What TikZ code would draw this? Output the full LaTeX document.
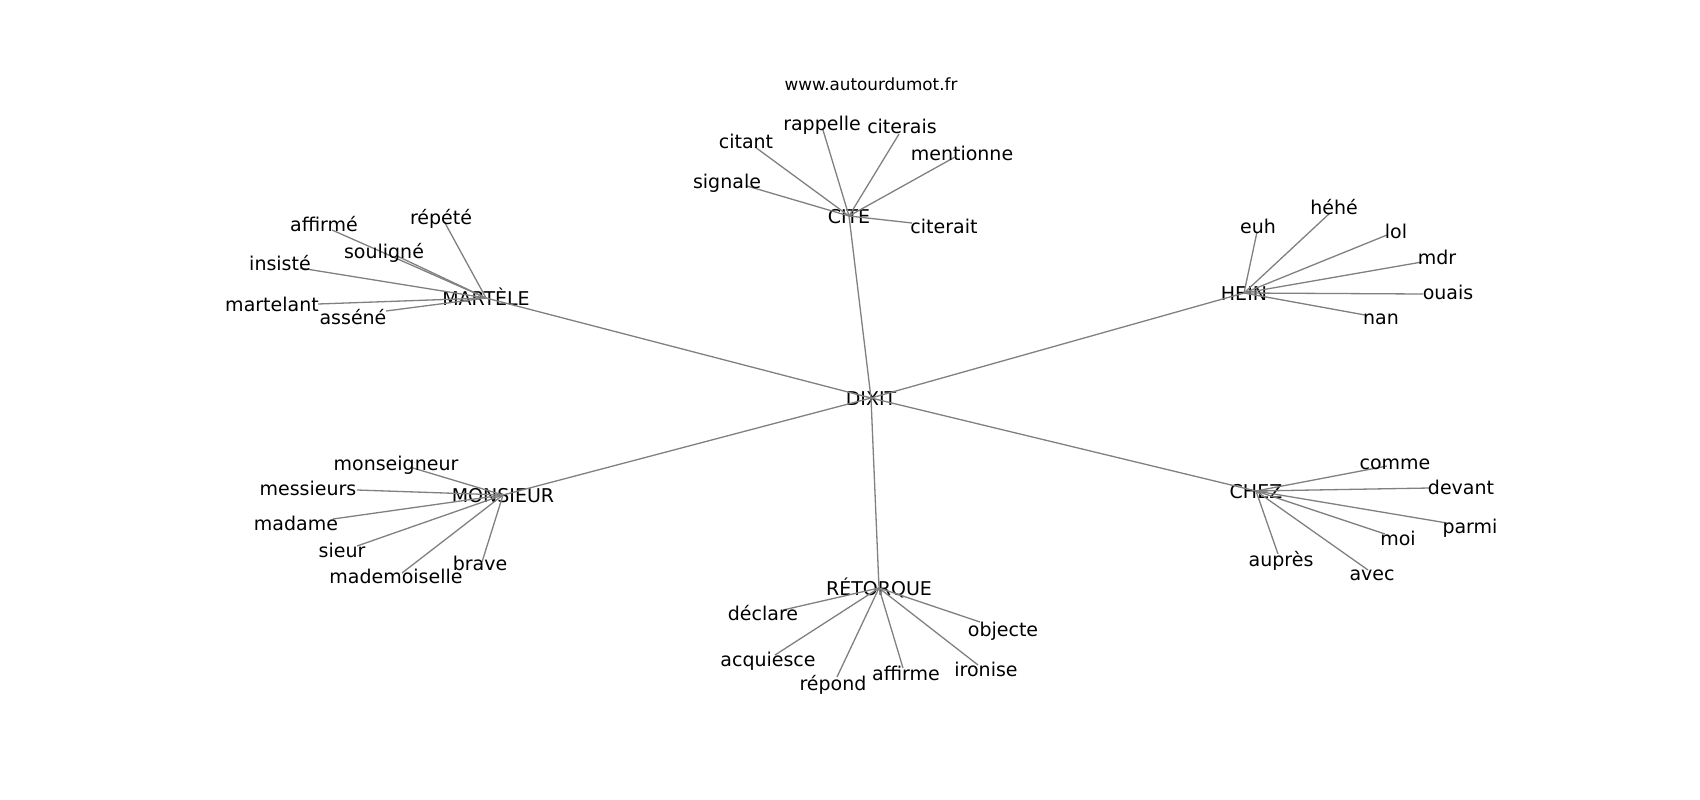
\documentclass[tikz,border=0pt]{standalone}
\usepackage{fontspec}
\setmainfont{DejaVu Sans}
\usetikzlibrary{positioning}

\begin{document}
\begin{tikzpicture}[x=1pt, y=-1pt,
                    every node/.append style = {font=\fontsize{19}{22}\selectfont, inner sep=0pt,
                                                text height=17pt, text depth=3pt},
                    edge/.style = {draw=black!50, line width=1.3pt}]
\useasboundingbox (0,0) rectangle (1700,800);
% hubs
\node (dixit)    at (871,398) {DIXIT};
\node (cite)     at (849,216) {CITE};
\node (martele)  at (486,298) {MARTÈLE};
\node (hein)     at (1244,293) {HEIN};
\node (monsieur) at (503,495) {MONSIEUR};
\node (chez)     at (1256,491) {CHEZ};
\node (retorque) at (879,588) {RÉTORQUE};
\node[font=\fontsize{16.8}{20}\selectfont] (site) at (871,84) {www.autourdumot.fr};
\foreach \hub in {cite,martele,hein,monsieur,chez,retorque}
    \draw[edge] (dixit.center) -- (\hub.center);
% leaves: hub / name / text / label position / end of line
\foreach \hub/\name/\word/\lx/\ly/\px/\py in {
    cite/signale/signale/727/181/747/186,
    cite/citant/citant/746/141/755/147,
    cite/rappelle/rappelle/822/123/823/130,
    cite/citerais/citerais/902/126/899/134,
    cite/mentionne/mentionne/962/153/955/157,
    cite/citerait/citerait/944/226/912/223,
    martele/affirmeA/affirmé/324/224/332/230,
    martele/souligne/souligné/384/251/397/256,
    martele/repete/répété/441/217/445/223,
    martele/insiste/insisté/280/263/300/268,
    martele/martelant/martelant/272/304/318/304,
    martele/assene/asséné/353/317/386/311,
    hein/euh/euh/1258/226/1257/232,
    hein/hehe/héhé/1334/207/1330/213,
    hein/lol/lol/1396/231/1387/235,
    hein/mdr/mdr/1437/257/1422/262,
    hein/ouais/ouais/1448/292/1423/294,
    hein/nan/nan/1381/317/1365/315,
    monsieur/monseigneur/monseigneur/396/463/413/468,
    monsieur/messieurs/messieurs/308/488/357/490,
    monsieur/madame/madame/296/523/333/519,
    monsieur/sieur/sieur/342/550/357/546,
    monsieur/mademoiselle/mademoiselle/396/576/402/573,
    monsieur/brave/brave/480/563/482/562,
    retorque/declare/déclare/763/613/783/610,
    retorque/acquiesce/acquiesce/768/659/775/655,
    retorque/repond/répond/833/683/837/677,
    retorque/affirme/affirme/906/673/903/668,
    retorque/ironise/ironise/986/669/978/665,
    retorque/objecte/objecte/1003/629/980/622,
    chez/comme/comme/1395/462/1387/466,
    chez/devant/devant/1461/487/1430/488,
    chez/parmi/parmi/1470/526/1447/523,
    chez/moi/moi/1398/538/1385/534,
    chez/avec/avec/1372/573/1368/570,
    chez/aupres/auprès/1281/559/1278/554}
{
    \coordinate (\name-end) at (\px,\py);
    \draw[edge] (\hub.center) -- (\name-end);
    \node (\name) at (\lx,\ly) {\word};
}
\end{tikzpicture}
\end{document}
